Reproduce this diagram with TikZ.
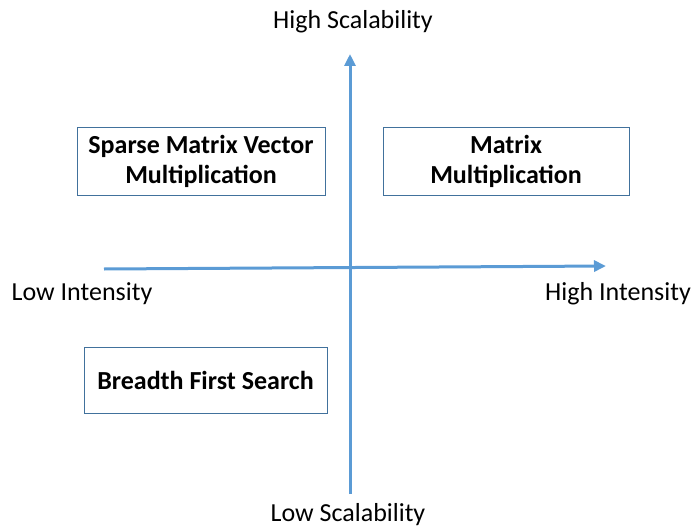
\documentclass[tikz,border=0pt]{standalone}
\usepackage{fontspec}
\setmainfont{Carlito}
\usetikzlibrary{arrows.meta}
\definecolor{axisblue}{HTML}{5B9BD5}
\definecolor{boxblue}{HTML}{41719C}
\begin{document}
\begin{tikzpicture}[x=1pt,y=-1pt,
  axis/.style={draw=axisblue,line width=3pt,-{Triangle[length=12pt,width=11pt]}},
  qbox/.style={draw=boxblue,line width=0.8pt,fill=white,inner sep=0pt,align=center,font=\fontsize{26}{30}\selectfont\bfseries},
  lbl/.style={inner sep=0pt,font=\fontsize{26}{28}\selectfont}]
\useasboundingbox (0,0) rectangle (693,527);
\coordinate (vb) at (350,494);
\coordinate (vt) at (350,54);
\coordinate (hl) at (104,269);
\coordinate (hr) at (606,266);
\draw[axis] (vb) -- (vt);
\draw[axis] (hl) -- (hr);
\node[qbox,minimum width=248pt,minimum height=68pt] (spmv) at (201,161) {Sparse Matrix Vector\\Multiplication};
\node[qbox,minimum width=246pt,minimum height=68pt] (mm) at (506,161) {Matrix\\Multiplication};
\node[qbox,minimum width=243pt,minimum height=66pt] (bfs) at (205.5,380) {Breadth First Search};
\node[lbl] (hs) at (353,22) {High Scalability};
\node[lbl] (ls) at (348,515) {Low Scalability};
\node[lbl] (li) at (82,294) {Low Intensity};
\node[lbl] (hi) at (618,294) {High Intensity};
\end{tikzpicture}
\end{document}
